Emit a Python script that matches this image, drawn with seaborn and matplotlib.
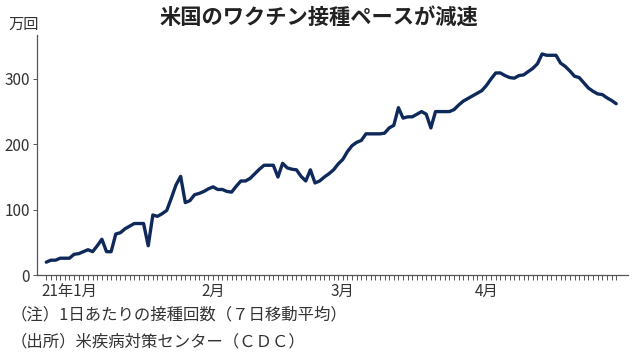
import matplotlib
matplotlib.use("Agg")
import matplotlib.pyplot as plt
import numpy as np
import pandas as pd
import seaborn as sns

title = "米国のワクチン接種ペースが減速"
unit_label = "万回"
note_lines = ["（注）1日あたりの接種回数（７日移動平均）", "（出所）米疾病対策センター（ＣＤＣ）"]

start_date = "2020-12-27"
# daily doses, 7-day average (10k doses)
doses = [
    20, 23, 23, 26, 26, 26, 32, 33, 36, 39, 36, 45, 55, 36, 36, 63, 65, 71, 75, 79,
    79, 79, 45, 92, 90, 94, 99, 118, 138, 151, 111, 114, 123, 125, 128, 132, 135, 131, 131, 128,
    127, 136, 144, 144, 148, 155, 162, 168, 168, 168, 150, 171, 164, 162, 161, 151, 144, 161, 141, 144,
    150, 155, 161, 170, 177, 189, 198, 203, 206, 216, 216, 216, 216, 217, 225, 229, 256, 240, 242, 242,
    246, 250, 246, 225, 250, 250, 250, 250, 253, 260, 266, 270, 274, 278, 282, 290, 300, 309, 309, 305,
    302, 301, 305, 306, 311, 316, 323, 338, 336, 336, 336, 324, 319, 312, 304, 302, 294, 286, 281, 277,
    276, 271, 267, 262,
]
month_ticks = ["2021-01-01", "2021-02-01", "2021-03-01", "2021-04-01"]
month_labels = ["21年1月", "2月", "3月", "4月"]
y_ticks = [0, 100, 200, 300]

df = pd.DataFrame({
    "date": pd.date_range(start_date, periods=len(doses), freq="D"),
    "doses": doses,
})

sns.set_style("white")
plt.rcParams["font.family"] = ["Noto Sans CJK JP", "DejaVu Sans"]

fig = plt.figure(figsize=(6.38, 3.57), dpi=100)
ax = fig.add_axes([0.058, 0.229, 0.926, 0.673])

sns.lineplot(data=df, x="date", y="doses", ax=ax, color="#0f2a5a", linewidth=2.4)

ax.set_xlim(pd.Timestamp("2020-12-25"), pd.Timestamp("2021-05-01 12:00"))
ax.set_ylim(0, 367)
ax.set_xlabel("")
ax.set_ylabel("")

# one small tick per day of data
ax.set_xticks(df["date"], minor=True)
ax.set_xticks(pd.to_datetime(month_ticks))
ax.set_xticklabels(month_labels)
ax.set_yticks(y_ticks)

for side in ["top", "right"]:
    ax.spines[side].set_visible(False)
for side in ["left", "bottom"]:
    ax.spines[side].set_color("#555555")
    ax.spines[side].set_linewidth(0.9)

ax.tick_params(axis="x", which="both", bottom=True, direction="out", length=3.5, width=0.7,
               color="#555555", labelsize=11, labelcolor="#333333", pad=2)
ax.tick_params(axis="y", which="major", left=True, direction="out", length=3, width=0.7,
               color="#555555", labelsize=11, labelcolor="#333333", pad=2)

fig.text(0.5, 0.952, title, ha="center", va="center", fontsize=15.3,
         fontweight="bold", color="#222222")
fig.text(0.014, 0.932, unit_label, ha="left", va="center", fontsize=11, color="#333333")
fig.text(0.016, 0.118, note_lines[0], ha="left", va="center", fontsize=11.8, color="#333333")
fig.text(0.016, 0.042, note_lines[1], ha="left", va="center", fontsize=11.8, color="#333333")

fig.savefig("out.png", dpi=100)
